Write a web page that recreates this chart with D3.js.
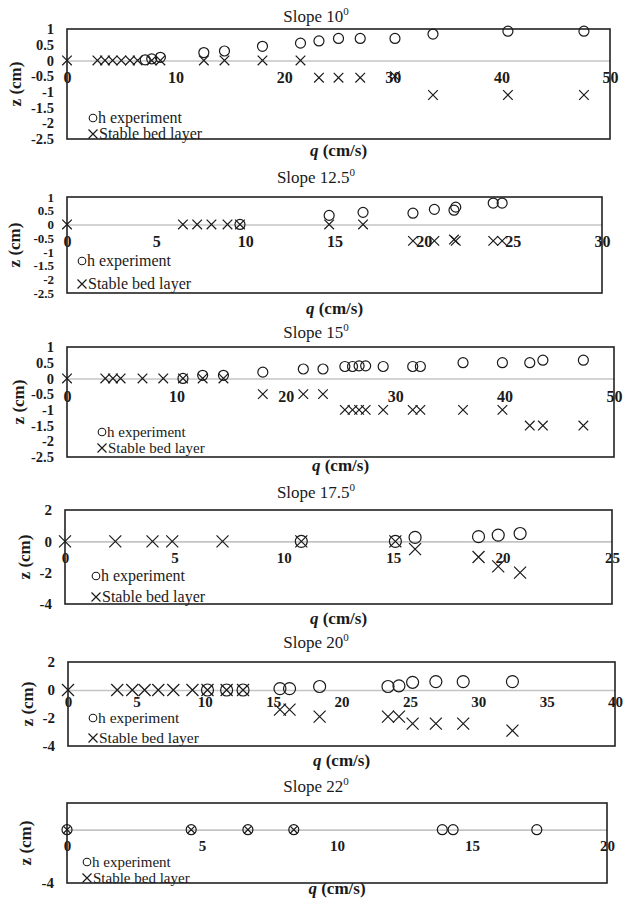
<!DOCTYPE html>
<html><head><meta charset="utf-8">
<script src="https://cdn.jsdelivr.net/npm/d3@7"></script>
<style>body{margin:0;background:#fff}svg{display:block}</style>
</head><body>
<svg id="c" width="625" height="903"></svg>
<script>
// ---------- data ----------
const slopeLabels = ["10", "12.5", "15", "17.5", "20", "22"];
const xMaxes = [50, 30, 50, 25, 40, 20];
const xSteps = [10, 5, 10, 5, 5, 5];
const yTicksFine = [1, 0.5, 0, -0.5, -1, -1.5, -2, -2.5];
const yTicksCoarse = [2, 0, -2, -4];
const yTicksLast = [-4];
const legendLabels = ["h experiment", "Stable bed layer"];

// Slope 10
const p1HQ = [7.2, 7.8, 8.6, 12.6, 14.5, 18.0, 21.5, 23.2, 25.0, 27.0, 30.2, 33.7, 40.6, 47.6];
const p1HZ = [0.02, 0.05, 0.1, 0.25, 0.3, 0.45, 0.55, 0.62, 0.7, 0.7, 0.7, 0.84, 0.93, 0.93];
const p1SQ = [0, 2.8, 3.5, 4.2, 5.0, 5.8, 6.5, 7.8, 8.6, 12.6, 14.5, 18.0, 21.5, 23.2, 25.0, 27.0, 30.2, 33.7, 40.6, 47.6];
const p1SZ = [0, 0, 0, 0, 0, 0, 0, 0, 0, 0, 0, 0, 0, -0.55, -0.55, -0.55, -0.5, -1.1, -1.1, -1.1];
// Slope 12.5
const p2HQ = [9.7, 14.7, 16.6, 19.4, 20.6, 21.7, 21.8, 23.9, 24.4];
const p2HZ = [0, 0.33, 0.44, 0.41, 0.55, 0.52, 0.63, 0.78, 0.78];
const p2SQ = [0, 6.5, 7.3, 8.1, 9.0, 9.7, 14.7, 16.6, 19.4, 20.6, 21.7, 21.8, 23.9, 24.4];
const p2SZ = [0, 0, 0, 0, 0, 0, 0, 0, -0.6, -0.6, -0.55, -0.6, -0.6, -0.6];
// Slope 15
const p3HQ = [10.6, 12.4, 14.3, 17.9, 21.6, 23.4, 25.4, 26.1, 26.7, 27.3, 28.9, 31.6, 32.3, 36.2, 39.8, 42.3, 43.5, 47.2];
const p3HZ = [0, 0.1, 0.1, 0.2, 0.3, 0.3, 0.38, 0.38, 0.4, 0.4, 0.38, 0.38, 0.38, 0.5, 0.5, 0.5, 0.58, 0.58];
const p3SQ = [0, 3.5, 4.2, 4.9, 6.9, 8.8, 10.6, 12.4, 14.3, 17.9, 21.6, 23.4, 25.4, 26.1, 26.7, 27.3, 28.9, 31.6, 32.3, 36.2, 39.8, 42.3, 43.5, 47.2];
const p3SZ = [0, 0, 0, 0, 0, 0, 0, 0, 0, -0.5, -0.5, -0.5, -1, -1, -1, -1, -1, -1, -1, -1, -1, -1.5, -1.5, -1.5];
// Slope 17.5
const p4HQ = [10.8, 15.1, 16.0, 18.9, 19.8, 20.8];
const p4HZ = [0, 0, 0.25, 0.3, 0.4, 0.5];
const p4SQ = [0, 2.3, 4.0, 4.9, 7.2, 10.8, 15.1, 16.0, 18.9, 19.8, 20.8];
const p4SZ = [0, 0, 0, 0, 0, 0, 0, -0.5, -1.0, -1.6, -2.0];
// Slope 20
const p5HQ = [10.2, 11.6, 12.8, 15.5, 16.2, 18.4, 23.4, 24.2, 25.2, 26.9, 28.9, 32.5];
const p5HZ = [0, 0, 0, 0.1, 0.1, 0.25, 0.25, 0.3, 0.55, 0.6, 0.6, 0.6];
const p5SQ = [0, 3.6, 4.7, 5.6, 6.6, 7.7, 9.1, 10.2, 11.6, 12.8, 15.5, 16.2, 18.4, 23.4, 24.2, 25.2, 26.9, 28.9, 32.5];
const p5SZ = [0, 0, 0, 0, 0, 0, 0, 0, 0, 0, -1.4, -1.4, -1.9, -1.9, -1.9, -2.4, -2.4, -2.4, -2.9];
// Slope 22
const p6HQ = [0, 4.6, 6.7, 8.4, 13.9, 14.3, 17.4];
const p6HZ = [0, 0, 0, 0, 0, 0, 0];
const p6SQ = [0, 4.6, 6.7, 8.4];
const p6SZ = [0, 0, 0, 0];

const hQs = [p1HQ, p2HQ, p3HQ, p4HQ, p5HQ, p6HQ];
const hZs = [p1HZ, p2HZ, p3HZ, p4HZ, p5HZ, p6HZ];
const sQs = [p1SQ, p2SQ, p3SQ, p4SQ, p5SQ, p6SQ];
const sZs = [p1SZ, p2SZ, p3SZ, p4SZ, p5SZ, p6SZ];
const yTickSets = [yTicksFine, yTicksFine, yTicksFine, yTicksCoarse, yTicksCoarse, yTicksLast];
const yDomains = [[-2.5, 1], [-2.5, 1], [-2.5, 1], [-4, 2], [-4, 2], [-4, 2]];

// ---------- layout (positions / styles) ----------
const layout = [
  {x0: 67, x1: 610, y0: 29, y1: 139, titleY: 22, xTitleY: 156, zX: 15, legX: 93, legY: [118, 134], r: 5, xs: 4.8, pad: 11, fs: 16, yfs: 14.5, lfs: 16},
  {x0: 67, x1: 602, y0: 197, y1: 293, titleY: 183, xTitleY: 314, zX: 14, legX: 82, legY: [261, 284], r: 5, xs: 4.8, pad: 11, fs: 16, yfs: 13, lfs: 16},
  {x0: 67, x1: 614, y0: 347, y1: 457, titleY: 338, xTitleY: 471, zX: 18, legX: 102, legY: [432, 448], r: 5, xs: 4.8, pad: 12, fs: 16, yfs: 14.5, lfs: 15},
  {x0: 65, x1: 612, y0: 510, y1: 604, titleY: 498, xTitleY: 624, zX: 24, legX: 96, legY: [576, 597], r: 6, xs: 6, pad: 11, fs: 15, yfs: 15, lfs: 16},
  {x0: 68, x1: 615, y0: 662, y1: 746, titleY: 648, xTitleY: 766, zX: 27, legX: 93, legY: [718, 738], r: 6, xs: 6, pad: 6, fs: 15, yfs: 15, lfs: 15.5},
  {x0: 67, x1: 607, y0: 803, y1: 883, titleY: 792, xTitleY: 894, zX: 25, legX: 87, legY: [862, 878], r: 5, xs: 3.6, pad: 11, fs: 15, yfs: 15, lfs: 15}
];

const FONT = "'Liberation Serif', 'Times New Roman', serif";
const INK = "#1a1a1a";
const svg = d3.select("#c").style("font-family", FONT);

function xMark(g, cx, cy, s) {
  g.append("path")
    .attr("d", `M${cx - s},${cy - s}L${cx + s},${cy + s}M${cx - s},${cy + s}L${cx + s},${cy - s}`)
    .attr("stroke", INK).attr("stroke-width", 1.2).attr("fill", "none");
}

layout.forEach((L, i) => {
  const g = svg.append("g");
  const x = d3.scaleLinear().domain([0, xMaxes[i]]).range([L.x0, L.x1]);
  const y = d3.scaleLinear().domain(yDomains[i]).range([L.y1, L.y0]);

  // title
  const t = g.append("text").attr("x", 316).attr("y", L.titleY)
    .attr("text-anchor", "middle").attr("font-size", 17).attr("fill", INK);
  t.append("tspan").text("Slope " + slopeLabels[i]);
  t.append("tspan").attr("font-size", 11).attr("dy", -7).text("0");

  // zero axis (gray) with labels
  const xt = d3.range(0, xMaxes[i] + 0.001, xSteps[i]);
  const xa = g.append("g").attr("transform", `translate(0,${y(0)})`)
    .call(d3.axisBottom(x).tickValues(xt).tickSize(0).tickPadding(L.pad).tickFormat(d3.format("d")));
  xa.select(".domain").attr("stroke", "#c4c4c4").attr("stroke-width", 1.6);
  xa.selectAll("text").attr("font-family", FONT).attr("font-size", L.fs)
    .attr("font-weight", "bold").attr("fill", INK);

  // y axis labels
  const ya = g.append("g").attr("transform", `translate(${L.x0},0)`)
    .call(d3.axisLeft(y).tickValues(yTickSets[i]).tickSize(0).tickPadding(13).tickFormat(d => String(d)));
  ya.select(".domain").remove();
  ya.selectAll("text").attr("font-family", FONT).attr("font-size", L.yfs)
    .attr("font-weight", "bold").attr("fill", INK);

  // box
  g.append("rect").attr("x", L.x0).attr("y", L.y0)
    .attr("width", L.x1 - L.x0).attr("height", L.y1 - L.y0)
    .attr("fill", "none").attr("stroke", "#222").attr("stroke-width", 1.6);

  // stable bed layer marks
  const sq = sQs[i], sz = sZs[i];
  sq.forEach((q, k) => xMark(g, x(q), y(sz[k]), L.xs));
  // h experiment marks
  const hq = hQs[i], hz = hZs[i];
  g.append("g").selectAll("circle").data(hq).join("circle")
    .attr("cx", q => x(q)).attr("cy", (q, k) => y(hz[k])).attr("r", L.r)
    .attr("fill", "none").attr("stroke", INK).attr("stroke-width", 1.2);

  // legend
  g.append("circle").attr("cx", L.legX).attr("cy", L.legY[0]).attr("r", 3.8)
    .attr("fill", "none").attr("stroke", INK).attr("stroke-width", 1.1);
  g.append("text").attr("x", L.legX + 5).attr("y", L.legY[0] + 5)
    .attr("font-size", L.lfs).attr("fill", INK).text(legendLabels[0]);
  xMark(g, L.legX, L.legY[1], 4.5);
  g.append("text").attr("x", L.legX + 6).attr("y", L.legY[1] + 5)
    .attr("font-size", L.lfs).attr("fill", INK).text(legendLabels[1]);

  // x title
  const xtit = g.append("text").attr("x", (L.x0 + L.x1) / 2).attr("y", L.xTitleY)
    .attr("text-anchor", "middle").attr("font-size", 17).attr("font-weight", "bold").attr("fill", INK);
  xtit.append("tspan").attr("font-style", "italic").text("q");
  xtit.append("tspan").text(" (cm/s)");

  // y title
  const cy = (L.y0 + L.y1) / 2;
  g.append("text").attr("transform", `translate(${L.zX},${cy}) rotate(-90)`)
    .attr("text-anchor", "middle").attr("dy", "0.35em")
    .attr("font-size", 17).attr("font-weight", "bold").attr("fill", INK).text("z (cm)");
});
</script>
</body></html>
